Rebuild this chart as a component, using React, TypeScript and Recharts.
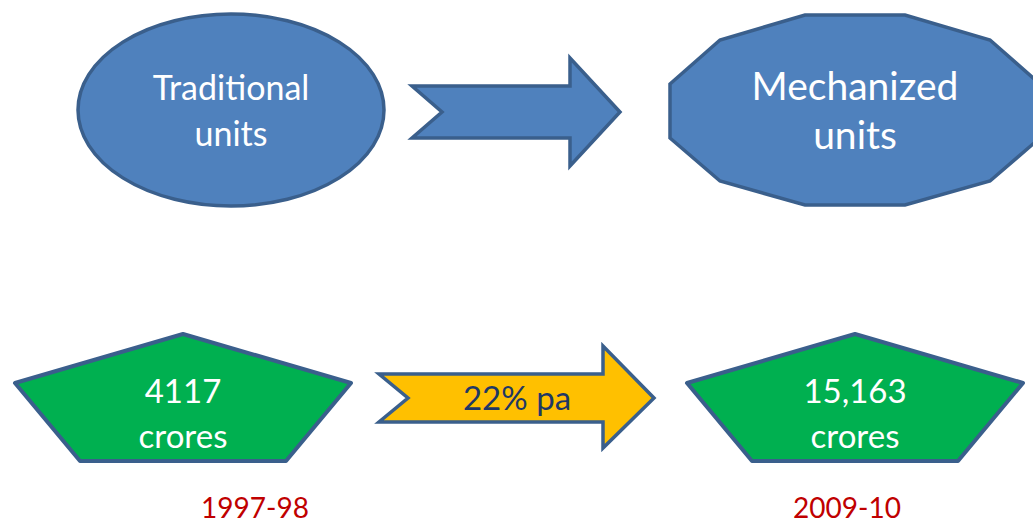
import React from 'react';
import { ScatterChart, Scatter, XAxis, YAxis } from 'recharts';

// Production stages and the sector output at each end of the period
const stages = ['Traditional units', 'Mechanized units'];
const years = ['1997-98', '2009-10'];
const outputCrores = [4117, 15163];
const growthPctPerYear = 22;

// Diagram layout (pixel coordinates on a 1033 x 523 canvas)
const W = 1033;
const H = 523;
const stageX = [231, 855];
const stageY = 110;
const outputX = [183, 855];
const outputY = 400;
const yearX = [255, 847];
const yearY = 518;
const transitionArrow = { x: 516, y: 112 };
const growthArrow = { x: 517, y: 398 };

const FONT = 'Lato, Calibri, Carlito, sans-serif';
const BLUE = '#4F81BD';
const EDGE = '#3A5F8C';

const stageData = stages.map((label, i) => ({ x: stageX[i], y: stageY, label, idx: i }));
const outputData = outputCrores.map((v, i) => ({ x: outputX[i], y: outputY, value: v }));
const yearData = years.map((label, i) => ({ x: yearX[i], y: yearY, label }));
const transitionData = [{ ...transitionArrow }];
const growthData = [{ ...growthArrow, rate: growthPctPerYear }];

const formatCrores = (v: number) => (v >= 10000 ? v.toLocaleString('en-US') : String(v));

const poly = (cx: number, cy: number, pts: number[][]) =>
  pts.map(([dx, dy]) => `${cx + dx},${cy + dy}`).join(' ');

// chevron-tailed block arrow, offsets from its centre
const arrowPts = (tail: number, notch: number, shaftH: number, head: number, headTop: number, headBot: number, tip: number) => [
  [tail, -shaftH],
  [head, -shaftH],
  [head, -headTop],
  [tip, 0],
  [head, headBot],
  [head, shaftH],
  [tail, shaftH],
  [notch, 0],
];

const dodecagon = [
  [-50, -95], [50, -95], [135, -70], [185, -26], [185, 28], [135, 71],
  [50, 95], [-50, 95], [-135, 71], [-185, 28], [-185, -26], [-135, -70],
];

const pentagon = [
  [0, -66], [168, -17], [103, 61], [-103, 61], [-168, -17],
];

const StageShape = (props: any) => {
  const { cx, cy, payload } = props;
  const [first, second] = payload.label.split(' ');
  if (payload.idx === 0) {
    return (
      <g>
        <ellipse cx={cx} cy={cy} rx={153} ry={96} fill={BLUE} stroke={EDGE} strokeWidth={3.5} />
        <text x={cx} y={cy - 10} textAnchor="middle" fontFamily={FONT} fontSize={34} fill="#fff">{first}</text>
        <text x={cx} y={cy + 36} textAnchor="middle" fontFamily={FONT} fontSize={34} fill="#fff">{second}</text>
      </g>
    );
  }
  return (
    <g>
      <polygon points={poly(cx, cy, dodecagon)} fill={BLUE} stroke={EDGE} strokeWidth={3.5} strokeLinejoin="miter" />
      <text x={cx} y={cy - 10} textAnchor="middle" fontFamily={FONT} fontSize={39} fill="#fff">{first}</text>
      <text x={cx} y={cy + 39} textAnchor="middle" fontFamily={FONT} fontSize={39} fill="#fff">{second}</text>
    </g>
  );
};

const TransitionShape = (props: any) => {
  const { cx, cy } = props;
  return (
    <polygon
      points={poly(cx, cy, arrowPts(-104, -74, 26, 54, 54, 54, 104))}
      fill={BLUE}
      stroke={EDGE}
      strokeWidth={3.5}
    />
  );
};

const OutputShape = (props: any) => {
  const { cx, cy, payload } = props;
  return (
    <g>
      <polygon points={poly(cx, cy, pentagon)} fill="#00B050" stroke={EDGE} strokeWidth={4} strokeLinejoin="round" />
      <text x={cx} y={cy + 3} textAnchor="middle" fontFamily={FONT} fontSize={33} fill="#fff">{formatCrores(payload.value)}</text>
      <text x={cx} y={cy + 48} textAnchor="middle" fontFamily={FONT} fontSize={33} fill="#fff">crores</text>
    </g>
  );
};

const GrowthShape = (props: any) => {
  const { cx, cy, payload } = props;
  return (
    <g>
      <polygon
        points={poly(cx, cy, arrowPts(-138, -109, 24, 86, 52, 50, 137))}
        fill="#FFC000"
        stroke={EDGE}
        strokeWidth={3.5}
      />
      <text x={cx} y={cy + 12} textAnchor="middle" fontFamily={FONT} fontSize={33} fill="#1F3864">
        {`${payload.rate}% pa`}
      </text>
    </g>
  );
};

const YearShape = (props: any) => {
  const { cx, cy, payload } = props;
  return (
    <text x={cx} y={cy} textAnchor="middle" fontFamily={FONT} fontSize={28} fill="#C00000">{payload.label}</text>
  );
};

const App: React.FC = () => {
  return (
    <div style={{ position: 'absolute', left: 0, top: 0, width: W, height: H, background: '#fff' }}>
      <ScatterChart width={W} height={H} margin={{ top: 0, right: 0, bottom: 0, left: 0 }}>
        <XAxis type="number" dataKey="x" domain={[0, W]} hide />
        <YAxis type="number" dataKey="y" domain={[0, H]} reversed hide />
        <Scatter data={transitionData} shape={TransitionShape} isAnimationActive={false} />
        <Scatter data={stageData} shape={StageShape} isAnimationActive={false} />
        <Scatter data={growthData} shape={GrowthShape} isAnimationActive={false} />
        <Scatter data={outputData} shape={OutputShape} isAnimationActive={false} />
        <Scatter data={yearData} shape={YearShape} isAnimationActive={false} />
      </ScatterChart>
    </div>
  );
};

export default App;
